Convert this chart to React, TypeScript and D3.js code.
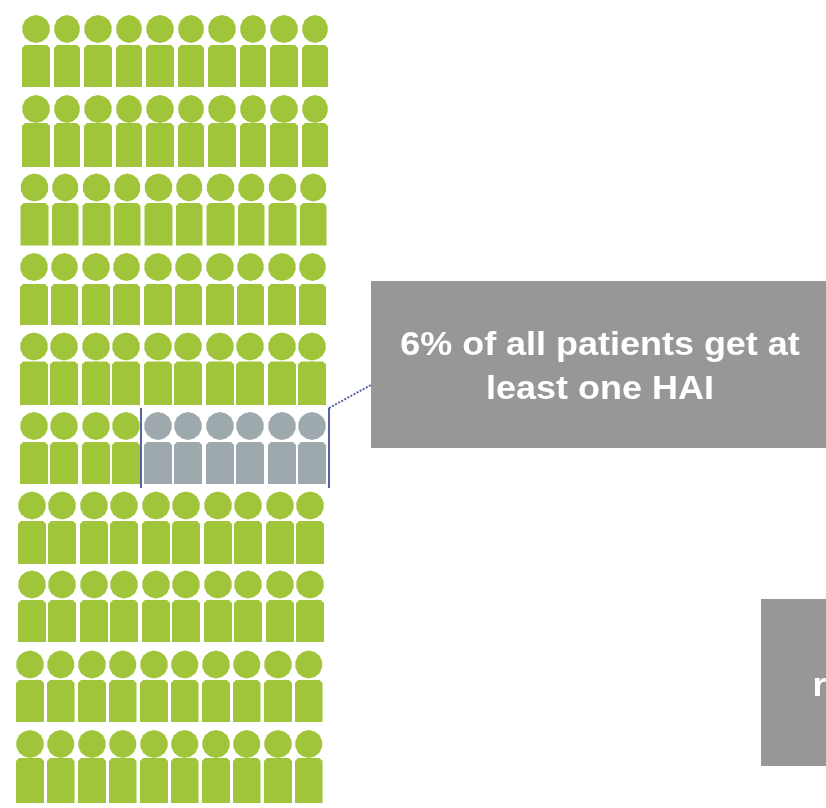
import React from "react";
import * as d3 from "d3";

const headTops = [15, 95, 173.5, 253, 332.5, 412, 491.5, 570.5, 650.5, 730];
const bodyTops = [45, 123, 203, 284, 361.5, 442, 521, 600, 680, 758];
const bodyBottoms = [87, 167, 245.5, 325, 405, 484, 564, 642, 722, 803];
const rowLefts = [22, 22, 20.5, 20, 20, 20, 18, 18, 16, 16];
const oddOffsets = [32, 32, 31.5, 31, 30, 30, 30, 30, 31, 31];
const oddWidths = [26, 26, 26.5, 27, 28, 28, 28, 28, 27.5, 27.5];
const affectedPerRow = [0, 0, 0, 0, 0, 6, 0, 0, 0, 0];
const columns = d3.range(10);
const mainLines = ["6% of all patients get at", "least one HAI"];
const GREEN = "#A0C53A";
const GREY = "#9EA9AE";
const BOX = "#979797";
const LINE = "#5562A3";

const pairX = d3.scaleLinear().domain([0, 4]).range([0, 248]);
const headLine = d3.line();

function headPath(cx: number, cy: number, rx: number, ry: number) {
  const pts = d3.range(14).map((i) => {
    const a = ((i + 0.5) / 14) * 2 * Math.PI;
    return [cx + rx * Math.cos(a), cy + ry * Math.sin(a)] as [number, number];
  });
  return headLine(pts) + "Z";
}

function bodyPath(x: number, y: number, w: number, h: number) {
  const p = d3.path();
  const r = 3;
  p.moveTo(x + r, y);
  p.lineTo(x + w - r, y);
  p.lineTo(x + w, y + r);
  p.lineTo(x + w, y + h);
  p.lineTo(x, y + h);
  p.lineTo(x, y + r);
  p.closePath();
  return p.toString();
}

export default function App() {
  const bracketRow = affectedPerRow.findIndex((d) => d > 0);
  const bTop = headTops[bracketRow] - 4;
  const bBottom = bodyBottoms[bracketRow] + 4;
  const bLeft = 141;
  const bRight = 329;
  const font = "Liberation Sans, Arial, sans-serif";
  return (
    <svg width={826} height={808} style={{ position: "absolute", left: 0, top: 0, background: "#fff" }}>
      <defs>
        <filter id="soft" x="-5%" y="-5%" width="110%" height="110%">
          <feGaussianBlur stdDeviation="0.45" />
        </filter>
        <filter id="softText" x="-5%" y="-5%" width="110%" height="110%">
          <feGaussianBlur stdDeviation="0.3" />
        </filter>
      </defs>
      <g filter="url(#soft)">
        {headTops.map((top, r) =>
          columns.map((c) => {
            const odd = c % 2 === 1;
            const x = rowLefts[r] + pairX(Math.floor(c / 2)) + (odd ? oddOffsets[r] : 0);
            const w = odd ? oddWidths[r] : 28;
            const fill = c >= 10 - affectedPerRow[r] ? GREY : GREEN;
            return (
              <g key={`${r}-${c}`} fill={fill}>
                <path d={headPath(x + w / 2, top + 14, w / 2, 14)} />
                <path d={bodyPath(x, bodyTops[r], w, bodyBottoms[r] - bodyTops[r])} />
              </g>
            );
          })
        )}
      </g>
      <g fill="none" stroke={LINE} strokeWidth={2}>
        <line x1={bLeft} x2={bLeft} y1={bTop} y2={bBottom} />
        <line x1={bRight} x2={bRight} y1={bTop} y2={bBottom} />
        <line x1={bRight} x2={371} y1={bTop} y2={385} strokeDasharray="2 1.5" />
      </g>
      <rect x={371} y={281} width={455} height={167} fill={BOX} />
      <g transform="translate(600,0) scale(1.09,1)">
        <text textAnchor="middle" fill="#fff" fontFamily={font} fontWeight="bold" fontSize={33} filter="url(#softText)">
          {mainLines.map((t, i) => (
            <tspan key={t} x={0} y={355 + i * 44.5}>{t}</tspan>
          ))}
        </text>
      </g>
      <rect x={761} y={599} width={65} height={167} fill={BOX} />
      <g transform="translate(812.5,0) scale(1.09,1)">
        <text x={0} y={696} fill="#fff" fontFamily={font} fontWeight="bold" fontSize={33} filter="url(#softText)">r</text>
      </g>
    </svg>
  );
}
